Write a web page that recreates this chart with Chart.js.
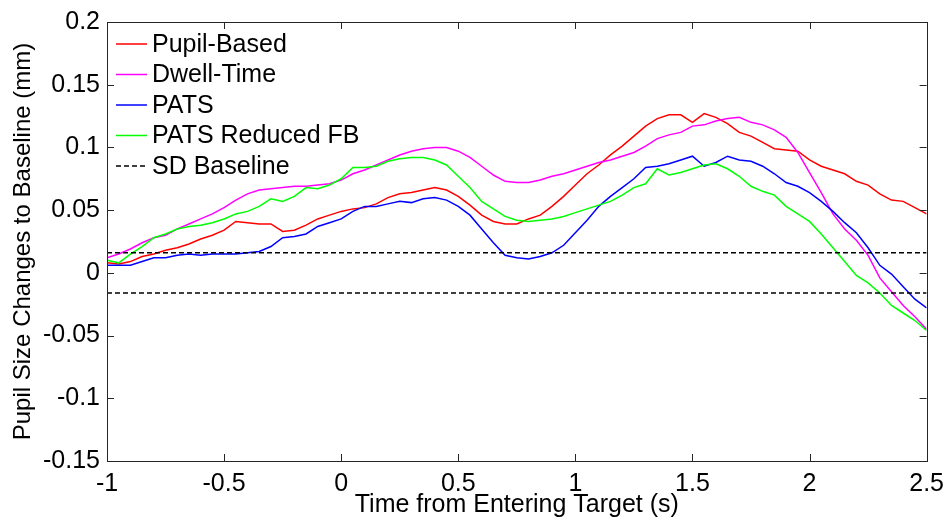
<!DOCTYPE html>
<html>
<head>
<meta charset="utf-8">
<script src="https://cdn.jsdelivr.net/npm/chart.js@4.4.0/dist/chart.umd.min.js"></script>
<style>
  html, body { margin: 0; padding: 0; background: #fff; }
  #wrap { width: 952px; height: 524px; }
</style>
</head>
<body>
<div id="wrap"><canvas id="chart" width="952" height="524"></canvas></div>
<script>
// Tiempo (s) desde la entrada al objetivo
const times = [
  -1, -0.95, -0.9, -0.85, -0.8, -0.75, -0.7, -0.65, -0.6, -0.55,
  -0.5, -0.45, -0.4, -0.35, -0.3, -0.25, -0.2, -0.15, -0.1, -0.05,
  0, 0.05, 0.1, 0.15, 0.2, 0.25, 0.3, 0.35, 0.4, 0.45,
  0.5, 0.55, 0.6, 0.65, 0.7, 0.75, 0.8, 0.85, 0.9, 0.95,
  1, 1.05, 1.1, 1.15, 1.2, 1.25, 1.3, 1.35, 1.4, 1.45,
  1.5, 1.55, 1.6, 1.65, 1.7, 1.75, 1.8, 1.85, 1.9, 1.95,
  2, 2.05, 2.1, 2.15, 2.2, 2.25, 2.3, 2.35, 2.4, 2.45, 2.5
];

// Series (mm)
const pupilBased = [
  0.008, 0.007, 0.009, 0.013, 0.015, 0.018, 0.020, 0.023, 0.027, 0.030,
  0.034, 0.041, 0.040, 0.039, 0.039, 0.033, 0.034, 0.038, 0.043, 0.046,
  0.049, 0.051, 0.052, 0.055, 0.060, 0.063, 0.064, 0.066, 0.068, 0.066,
  0.061, 0.054, 0.046, 0.041, 0.039, 0.039, 0.043, 0.046, 0.053, 0.061,
  0.070, 0.079, 0.086, 0.094, 0.101, 0.109, 0.117, 0.123, 0.126, 0.126,
  0.120, 0.127, 0.124, 0.119, 0.112, 0.109, 0.104, 0.099, 0.098, 0.097,
  0.090, 0.085, 0.082, 0.079, 0.073, 0.070, 0.063, 0.058, 0.057, 0.052, 0.047
];
const dwellTime = [
  0.012, 0.015, 0.019, 0.024, 0.028, 0.030, 0.035, 0.039, 0.043, 0.047,
  0.052, 0.058, 0.063, 0.066, 0.067, 0.068, 0.069, 0.069, 0.070, 0.071,
  0.074, 0.079, 0.082, 0.086, 0.090, 0.094, 0.097, 0.099, 0.100, 0.100,
  0.097, 0.092, 0.085, 0.078, 0.073, 0.072, 0.072, 0.074, 0.077, 0.079,
  0.082, 0.085, 0.088, 0.090, 0.093, 0.096, 0.101, 0.107, 0.110, 0.112,
  0.117, 0.118, 0.121, 0.123, 0.124, 0.120, 0.118, 0.114, 0.108, 0.096,
  0.080, 0.064, 0.047, 0.035, 0.026, 0.014, -0.004, -0.015, -0.026, -0.035, -0.045
];
const pats = [
  0.006, 0.006, 0.006, 0.009, 0.012, 0.012, 0.014, 0.015, 0.014, 0.015,
  0.015, 0.015, 0.016, 0.017, 0.021, 0.028, 0.029, 0.031, 0.037, 0.040,
  0.043, 0.049, 0.053, 0.053, 0.055, 0.057, 0.056, 0.059, 0.060, 0.058,
  0.053, 0.046, 0.035, 0.024, 0.014, 0.012, 0.011, 0.013, 0.016, 0.022,
  0.032, 0.042, 0.053, 0.061, 0.068, 0.075, 0.084, 0.085, 0.087, 0.090,
  0.093, 0.085, 0.088, 0.093, 0.090, 0.089, 0.085, 0.079, 0.072, 0.069,
  0.064, 0.057, 0.049, 0.040, 0.032, 0.020, 0.006, -0.001, -0.011, -0.021, -0.028
];
const patsReduced = [
  0.010, 0.008, 0.015, 0.021, 0.028, 0.031, 0.035, 0.037, 0.038, 0.040,
  0.043, 0.047, 0.049, 0.053, 0.059, 0.057, 0.061, 0.068, 0.067, 0.070,
  0.075, 0.084, 0.084, 0.085, 0.089, 0.091, 0.092, 0.092, 0.090, 0.086,
  0.077, 0.068, 0.057, 0.051, 0.045, 0.042, 0.041, 0.042, 0.043, 0.045,
  0.048, 0.051, 0.054, 0.057, 0.062, 0.068, 0.071, 0.083, 0.078, 0.080,
  0.083, 0.086, 0.087, 0.083, 0.077, 0.069, 0.065, 0.062, 0.053, 0.047,
  0.041, 0.031, 0.020, 0.009, -0.002, -0.008, -0.016, -0.026, -0.032, -0.038, -0.046
];
// Línea base SD (±)
const sdBaseline = [0.016, -0.016];

const xTicks = [-1, -0.5, 0, 0.5, 1, 1.5, 2, 2.5];
const yTicks = [-0.15, -0.1, -0.05, 0, 0.05, 0.1, 0.15, 0.2];

const FONT = "'Liberation Sans', Arial, sans-serif";
Chart.defaults.font.family = FONT;
Chart.defaults.font.size = 25;
Chart.defaults.color = '#000';

function toPoints(values) {
  return values.map((v, i) => ({ x: times[i], y: v }));
}
function flatLine(v) {
  return [{ x: times[0], y: v }, { x: times[times.length - 1], y: v }];
}
function fmt(v) {
  return String(+v.toFixed(2));
}

// Marco y marcas hacia adentro (estilo MATLAB)
const insideTicks = {
  id: 'insideTicks',
  afterDatasetsDraw(chart) {
    const { ctx, chartArea: a, scales } = chart;
    const len = 7;
    ctx.save();
    ctx.strokeStyle = '#262626';
    ctx.lineWidth = 1;
    ctx.beginPath();
    xTicks.forEach(t => {
      const px = Math.round(scales.x.getPixelForValue(t)) + 0.5;
      ctx.moveTo(px, a.bottom); ctx.lineTo(px, a.bottom - len);
      ctx.moveTo(px, a.top); ctx.lineTo(px, a.top + len);
    });
    yTicks.forEach(t => {
      const py = Math.round(scales.y.getPixelForValue(t)) + 0.5;
      ctx.moveTo(a.left, py); ctx.lineTo(a.left + len, py);
      ctx.moveTo(a.right, py); ctx.lineTo(a.right - len, py);
    });
    ctx.stroke();
    ctx.strokeRect(Math.round(a.left) + 0.5, Math.round(a.top) + 0.5,
      Math.round(a.right - a.left), Math.round(a.bottom - a.top));
    ctx.restore();
  }
};

// Leyenda dentro del área del gráfico
const innerLegend = {
  id: 'innerLegend',
  afterDraw(chart) {
    const { ctx, chartArea: a } = chart;
    ctx.save();
    ctx.font = '25px ' + FONT;
    ctx.textBaseline = 'middle';
    ctx.fillStyle = '#000';
    let y = a.top + 22;
    chart.data.datasets.forEach(ds => {
      if (ds.hideInLegend) return;
      ctx.strokeStyle = ds.borderColor;
      ctx.lineWidth = 1.5;
      ctx.setLineDash(ds.borderDash || []);
      ctx.beginPath();
      ctx.moveTo(a.left + 9, y);
      ctx.lineTo(a.left + 40, y);
      ctx.stroke();
      ctx.fillText(ds.label, a.left + 45, y + 1);
      y += 30.5;
    });
    ctx.restore();
  }
};

const lineStyle = { borderWidth: 1.5, pointRadius: 0, tension: 0, fill: false };

new Chart(document.getElementById('chart'), {
  type: 'line',
  data: {
    datasets: [
      { ...lineStyle, label: 'Pupil-Based', data: toPoints(pupilBased), borderColor: '#ff0000', order: 5 },
      { ...lineStyle, label: 'Dwell-Time', data: toPoints(dwellTime), borderColor: '#ff00ff', order: 4 },
      { ...lineStyle, label: 'PATS', data: toPoints(pats), borderColor: '#0000ff', order: 3 },
      { ...lineStyle, label: 'PATS Reduced FB', data: toPoints(patsReduced), borderColor: '#00ff00', order: 2 },
      { ...lineStyle, label: 'SD Baseline', data: flatLine(sdBaseline[0]), borderColor: '#000', borderDash: [5, 3], order: 1 },
      { ...lineStyle, label: 'SD Baseline', data: flatLine(sdBaseline[1]), borderColor: '#000', borderDash: [5, 3], order: 1, hideInLegend: true }
    ]
  },
  options: {
    responsive: false,
    animation: false,
    layout: { padding: { top: 18, right: 22, left: 0, bottom: 0 } },
    plugins: { legend: { display: false }, tooltip: { enabled: false } },
    scales: {
      x: {
        type: 'linear',
        min: -1, max: 2.5,
        afterBuildTicks: s => { s.ticks = xTicks.map(v => ({ value: v })); },
        afterFit: s => { s.height = 63; },
        grid: { display: false, drawTicks: false },
        border: { display: false },
        ticks: { padding: 8, maxRotation: 0, callback: v => fmt(v) },
        title: { display: true, text: 'Time from Entering Target (s)', font: { size: 25 }, padding: { top: 0, bottom: 4 } }
      },
      y: {
        min: -0.15, max: 0.2,
        afterBuildTicks: s => { s.ticks = yTicks.map(v => ({ value: v })); },
        afterFit: s => { s.width = 107; },
        grid: { display: false, drawTicks: false },
        border: { display: false },
        ticks: { padding: 7, callback: v => fmt(v) },
        title: { display: true, text: 'Pupil Size Changes to Baseline (mm)', font: { size: 24 }, padding: { top: 9, bottom: 0 } }
      }
    }
  },
  plugins: [insideTicks, innerLegend]
});
</script>
</body>
</html>
